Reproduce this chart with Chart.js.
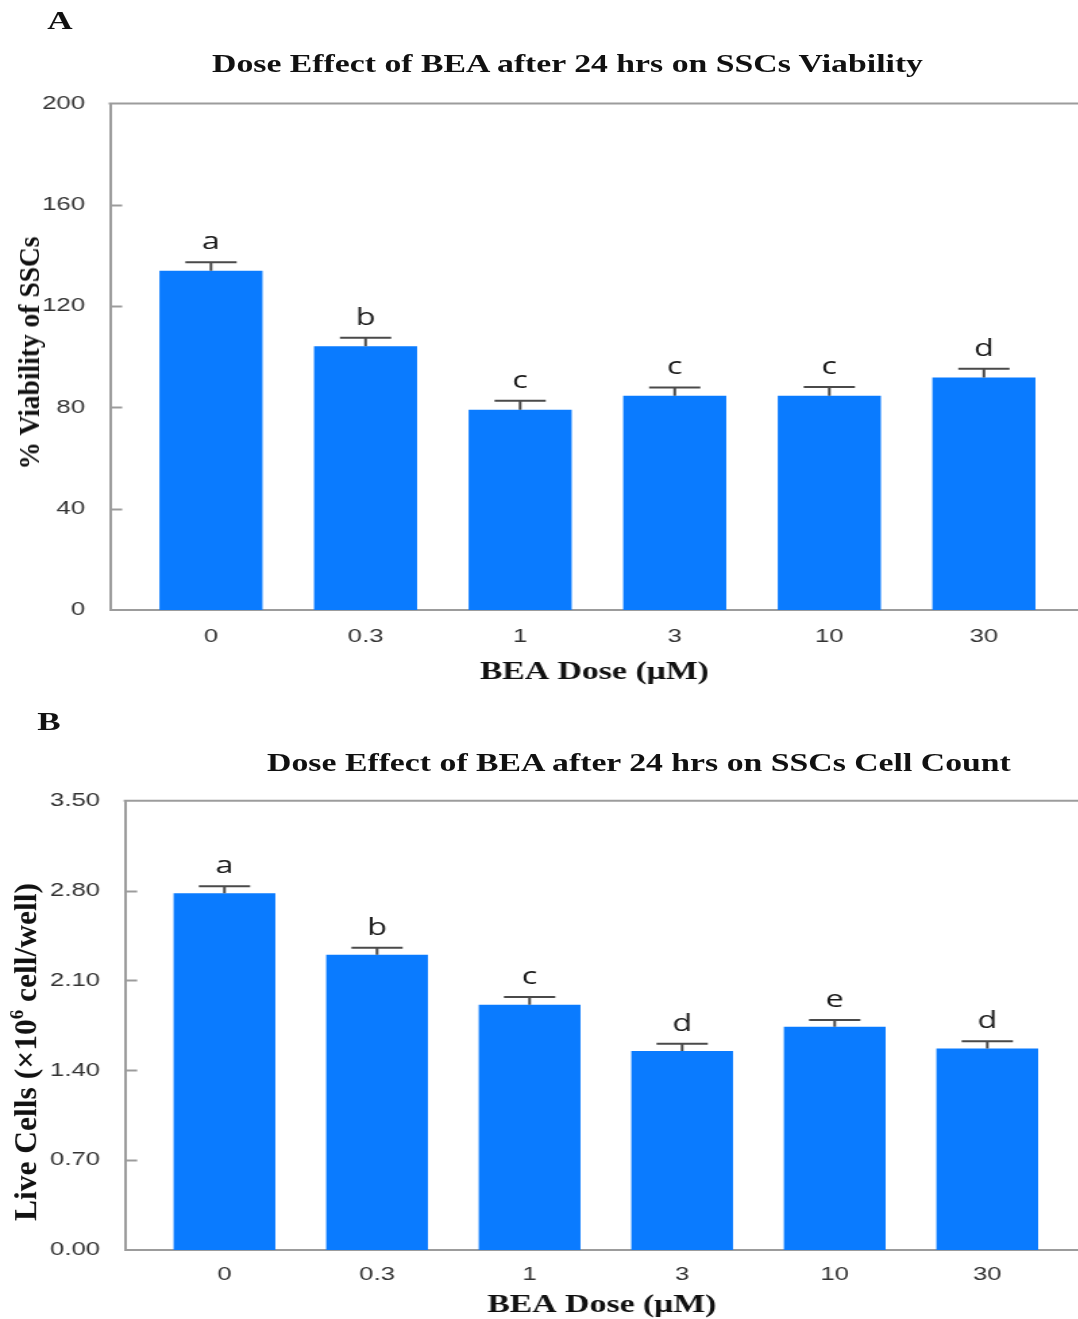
<!DOCTYPE html>
<html>
<head>
<meta charset="utf-8">
<script src="https://cdn.jsdelivr.net/npm/chart.js@4/dist/chart.umd.min.js"></script>
<style>
  html, body { margin: 0; padding: 0; background: #fff; overflow: hidden; }
  #fig { position: relative; width: 1078px; height: 1319px; overflow: hidden; background: #fff; }
  /* the source figure is stretched sideways, so the whole panel is drawn narrow and widened */
  #stretch { position: absolute; left: 0; top: 0; width: 799px; height: 1319px;
             transform: scaleX(1.35); transform-origin: 0 0; }
  canvas { position: absolute; left: 0; }
  .txt { position: absolute; white-space: nowrap; color: #111;
         font-family: 'Liberation Serif', 'Times New Roman', serif; font-weight: bold;
         line-height: 1; transform: translateX(-50%); }
  .panel { font-size: 26px; }
  .title { font-size: 25px; }
  .ytitle { position: absolute; white-space: nowrap; color: #111; line-height: 1;
            font-family: 'Liberation Serif', 'Times New Roman', serif; font-weight: bold; }
  .ytitle sup { font-size: 0.6em; vertical-align: 0.7em; }
</style>
</head>
<body>
<div id="fig">
  <div id="stretch">
    <canvas id="chart-a" width="799" height="700" style="top:0;width:799px;height:700px"></canvas>
    <canvas id="chart-b" width="799" height="619" style="top:700px;width:799px;height:619px"></canvas>
    <div class="txt panel" style="left:44.4px;top:8px">A</div>
    <div class="txt title" style="left:420.4px;top:51px">Dose Effect of BEA after 24 hrs on SSCs Viability</div>
    <div class="txt panel" style="left:36.3px;top:709px">B</div>
    <div class="txt title" style="left:473.3px;top:750px">Dose Effect of BEA after 24 hrs on SSCs Cell Count</div>
  </div>
  <div class="ytitle" style="left:29px;top:353px;font-size:27.5px;transform:translate(-50%,-50%) rotate(-90deg) scaleY(1.08)">% Viability of SSCs</div>
  <div class="ytitle" style="left:25px;top:1052px;font-size:31.5px;transform:translate(-50%,-50%) rotate(-90deg)">Live Cells (×10<sup>6</sup> cell/well)</div>
</div>

<script>
(() => {
  'use strict';

  // ---------- data ----------

  const doses = ['0', '0.3', '1', '3', '10', '30'];

  const viability = [134.0, 104.1, 79.1, 84.6, 84.6, 91.8];
  const viabilityErr = [3.3, 3.4, 3.5, 3.3, 3.5, 3.5];
  const viabilityLetters = ['a', 'b', 'c', 'c', 'c', 'd'];
  const viabilityTicks = [0, 40, 80, 120, 160, 200];

  const liveCells = [2.78, 2.30, 1.91, 1.55, 1.74, 1.57];
  const liveCellsErr = [0.053, 0.055, 0.06, 0.057, 0.052, 0.057];
  const liveCellsLetters = ['a', 'b', 'c', 'd', 'e', 'd'];
  const liveCellsTicks = [0, 0.7, 1.4, 2.1, 2.8, 3.5];

  const BAR_COLOR = '#0a7bff';
  const AXIS_COLOR = '#9c9c9c';
  const TICK_FONT = { family: "'Liberation Sans', Arial, sans-serif", size: 19 };
  const AXIS_TITLE_FONT = { family: "'Liberation Serif', 'Times New Roman', serif", size: 25, weight: 'bold', lineHeight: 1.1 };

  // ---------- error bars, letters, inward ticks, top frame ----------

  const marks = {
    id: 'marks',
    afterDatasetsDraw(chart, args, opts) {
      const { ctx, chartArea: a, scales: { x, y } } = chart;
      ctx.save();
      ctx.lineCap = 'butt';

      // frame line along the top
      ctx.strokeStyle = AXIS_COLOR;
      ctx.lineWidth = 2;
      ctx.beginPath();
      ctx.moveTo(a.left - 1, a.top);
      ctx.lineTo(a.right, a.top);
      ctx.stroke();

      // y ticks point into the plot
      opts.ticks.slice(1, -1).forEach(v => {
        const py = Math.round(y.getPixelForValue(v)) + 0.5;
        ctx.beginPath();
        ctx.moveTo(a.left, py);
        ctx.lineTo(a.left + 9, py);
        ctx.stroke();
      });

      // upper error bars and group letters
      const values = chart.data.datasets[0].data;
      ctx.strokeStyle = '#4a4a4a';
      ctx.lineWidth = 2;
      values.forEach((pt, i) => {
        const px = x.getPixelForValue(pt.x);
        const top = y.getPixelForValue(pt.y);
        const cap = y.getPixelForValue(pt.y + opts.errors[i]);
        ctx.beginPath();
        ctx.moveTo(px, top);
        ctx.lineTo(px, cap);
        ctx.moveTo(px - 19, cap);
        ctx.lineTo(px + 19, cap);
        ctx.stroke();

        ctx.fillStyle = '#1a1a1a';
        ctx.font = "24px 'Open Sans', 'Noto Sans', sans-serif";
        ctx.textAlign = 'center';
        ctx.textBaseline = 'alphabetic';
        ctx.fillText(opts.letters[i], px, cap - 13);
      });
      ctx.restore();
    },
  };

  // ---------- charts ----------

  function makeChart(id, cfg) {
    const canvas = document.getElementById(id);
    return new Chart(canvas, {
      type: 'bar',
      data: {
        datasets: [{
          data: cfg.values.map((v, i) => ({ x: i, y: v })),
          backgroundColor: BAR_COLOR,
          borderWidth: 0,
          barPercentage: 0.667,
          categoryPercentage: 1,
        }],
      },
      options: {
        responsive: false,
        animation: false,
        events: [],
        layout: { padding: { top: cfg.plotTop, left: 0, right: 0, bottom: 0 } },
        plugins: {
          legend: { display: false },
          tooltip: { enabled: false },
          marks: { errors: cfg.errors, letters: cfg.letters, ticks: cfg.ticks },
        },
        scales: {
          x: {
            type: 'linear',
            offset: false,
            min: cfg.xMin,
            max: cfg.xMax,
            afterBuildTicks: s => { s.ticks = doses.map((d, i) => ({ value: i })); },
            afterFit: s => { s.height = canvas.height - cfg.plotBottom; },
            grid: { display: false, drawTicks: false },
            border: { display: true, color: AXIS_COLOR, width: 2 },
            ticks: {
              padding: cfg.xTickPad,
              color: '#333',
              font: TICK_FONT,
              maxRotation: 0,
              autoSkip: false,
              callback: v => doses[v],
            },
            title: {
              display: true,
              text: 'BEA Dose (μM)',
              color: '#111',
              font: AXIS_TITLE_FONT,
              padding: { top: 0, bottom: cfg.xTitlePad },
            },
          },
          y: {
            min: cfg.ticks[0],
            max: cfg.ticks[cfg.ticks.length - 1],
            afterBuildTicks: s => { s.ticks = cfg.ticks.map(v => ({ value: v })); },
            afterFit: s => { s.width = cfg.plotLeft; },
            grid: { display: false, drawTicks: false },
            border: { display: true, color: AXIS_COLOR, width: 2 },
            ticks: {
              padding: 18.5,
              color: '#333',
              font: TICK_FONT,
              callback: cfg.fmt,
            },
          },
        },
      },
      plugins: [marks],
    });
  }

  makeChart('chart-a', {
    values: viability,
    errors: viabilityErr,
    letters: viabilityLetters,
    ticks: viabilityTicks,
    fmt: v => String(v),
    plotTop: 103.5,
    plotBottom: 610,
    plotLeft: 81.5,
    xMin: -0.653,
    xMax: 5.613,
    xTickPad: 15,
    xTitlePad: 14,
  });

  makeChart('chart-b', {
    values: liveCells,
    errors: liveCellsErr,
    letters: liveCellsLetters,
    ticks: liveCellsTicks,
    fmt: v => v.toFixed(2),
    plotTop: 100.7,
    plotBottom: 550,
    plotLeft: 92.6,
    xMin: -0.652,
    xMax: 5.599,
    xTickPad: 13,
    xTitlePad: 0,
  });
})();
</script>
</body>
</html>
